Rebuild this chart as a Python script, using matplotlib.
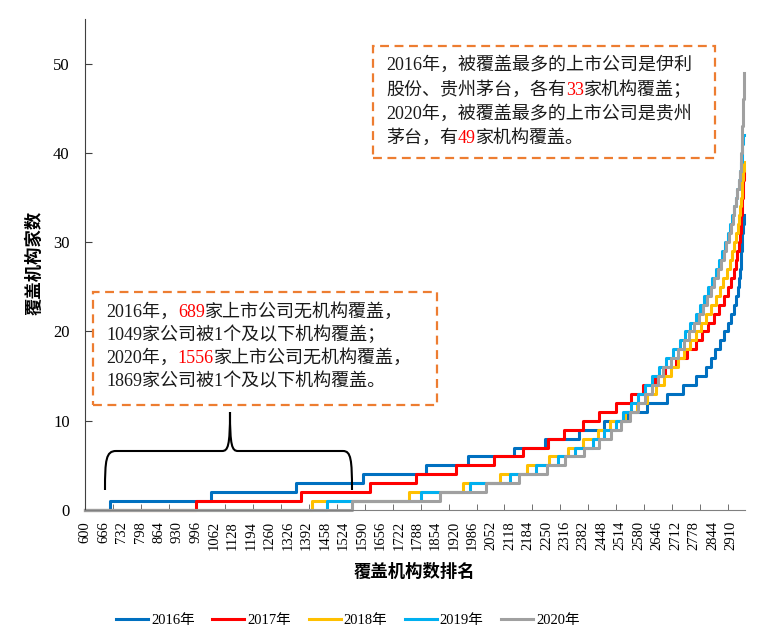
import matplotlib
matplotlib.use("Agg")
import matplotlib.pyplot as plt
from matplotlib.lines import Line2D
from matplotlib.patches import Rectangle, PathPatch
from matplotlib.path import Path

plt.rcParams["font.family"] = ["Liberation Serif", "Noto Sans CJK SC"]

# rank (x) at which the number of covering institutions steps up to 1, 2, 3, ...
years = ["2016年", "2017年", "2018年", "2019年", "2020年"]
steps_2016 = [689, 1049, 1356, 1594, 1820, 1969, 2133, 2246, 2368, 2457,
              2539, 2611, 2682, 2739, 2786, 2821, 2839, 2854, 2871, 2886,
              2900, 2911, 2920, 2929, 2934, 2937, 2941, 2944, 2946, 2949,
              2951, 2953, 2955]
steps_2017 = [996, 1371, 1618, 1785, 1927, 2064, 2165, 2255, 2314, 2380,
              2439, 2499, 2554, 2596, 2639, 2675, 2714, 2754, 2786, 2807,
              2829, 2850, 2868, 2886, 2900, 2911, 2920, 2927, 2932, 2937,
              2942, 2945, 2947, 2950, 2951, 2953, 2954, 2955]
steps_2018 = [1410, 1758, 1951, 2084, 2179, 2258, 2326, 2380, 2433, 2477,
              2532, 2575, 2611, 2643, 2671, 2696, 2721, 2743, 2764, 2786,
              2804, 2821, 2839, 2855, 2870, 2882, 2895, 2905, 2914, 2922,
              2928, 2934, 2938, 2942, 2946, 2948, 2951, 2953, 2955]
steps_2019 = [1465, 1802, 1978, 2120, 2213, 2290, 2353, 2418, 2457, 2499,
              2525, 2554, 2579, 2604, 2629, 2654, 2679, 2704, 2729, 2746,
              2764, 2786, 2800, 2814, 2829, 2843, 2855, 2868, 2879, 2889,
              2898, 2907, 2914, 2921, 2927, 2933, 2937, 2941, 2945, 2948,
              2950, 2952]
steps_2020 = [1556, 1869, 2034, 2153, 2253, 2318, 2386, 2439, 2482, 2518,
              2550, 2578, 2603, 2628, 2650, 2668, 2696, 2721, 2743, 2761,
              2779, 2796, 2811, 2825, 2839, 2850, 2862, 2873, 2884, 2893,
              2902, 2909, 2916, 2922, 2928, 2933, 2937, 2941, 2944, 2946,
              2948, 2950, 2951, 2952, 2953, 2954, 2955, 2956, 2957]
rank_start = 600
rank_end = 2958
colors = ["#0070C0", "#FF0000", "#FFC000", "#00B0F0", "#A0A0A0"]

xtick_labels = list(range(600, 2911, 66))
xtick_marks = list(range(700, 2901, 100))
yticks = [0, 10, 20, 30, 40, 50]

W, H = 775, 633
fig = plt.figure(figsize=(W / 100, H / 100), dpi=100)


def fx(px):
    return px / W


def fy(py):
    return 1 - py / H


ax = fig.add_axes([fx(85), fy(510), (745 - 85) / W, (510 - 19) / H])

all_steps = [steps_2016, steps_2017, steps_2018, steps_2019, steps_2020]
for steps, c, lab in zip(all_steps, colors, years):
    xs = [rank_start] + steps + [rank_end]
    ys = [0] + list(range(1, len(steps) + 1)) + [len(steps)]
    ax.step(xs, ys, where="post", color=c, lw=2.2, label=lab, clip_on=False)

ax.set_xlim(600, 2960)
ax.set_ylim(0, 55)
ax.set_xticks(xtick_labels)
ax.set_xticklabels([str(v) for v in xtick_labels], rotation=90, fontsize=10.5,
                   family="Liberation Serif")
ax.set_xticks(xtick_marks, minor=True)
ax.tick_params(axis="x", which="major", length=0, pad=8)
ax.tick_params(axis="x", which="minor", direction="in", length=4, color="#595959")
ax.set_yticks(yticks)
ax.set_yticklabels([str(v) for v in yticks], fontsize=12, family="Liberation Serif")
ax.tick_params(axis="y", direction="in", length=5, pad=11, color="#404040")

for s in ["top", "right"]:
    ax.spines[s].set_visible(False)
ax.spines["left"].set_color("#404040")
ax.spines["bottom"].set_color("#808080")

fig.text(fx(35), fy(263), "覆盖机构家数", rotation=90, ha="center", va="center",
         fontsize=12.5, fontweight="bold", family="Noto Sans CJK SC")
fig.text(fx(414), fy(572), "覆盖机构数排名", ha="center", va="center",
         fontsize=12.5, fontweight="bold", family="Noto Sans CJK SC")

handles = [Line2D([0], [0], color=c, lw=2.2) for c in colors]
fig.legend(handles, years, loc="center", bbox_to_anchor=(fx(348), fy(620)),
           ncol=5, frameon=False, fontsize=10.5, handlelength=2.2,
           handletextpad=0.2, columnspacing=1.2)

# annotation boxes
K, R = "#1A1A1A", "#FF0000"
box1 = [
    [("2016年，被覆盖最多的上市公司是伊利", K)],
    [("股份、贵州茅台，各有", K), ("33", R), ("家机构覆盖；", K)],
    [("2020年，被覆盖最多的上市公司是贵州", K)],
    [("茅台，有", K), ("49", R), ("家机构覆盖。", K)],
]
box2 = [
    [("2016年，", K), ("689", R), ("家上市公司无机构覆盖，", K)],
    [("1049家公司被1个及以下机构覆盖；", K)],
    [("2020年，", K), ("1556", R), ("家上市公司无机构覆盖，", K)],
    [("1869家公司被1个及以下机构覆盖。", K)],
]


def write_lines(lines, x0, y_centers):
    for parts, yc in zip(lines, y_centers):
        prev = None
        for txt, col in parts:
            if prev is None:
                prev = fig.text(fx(x0), fy(yc), txt, color=col, fontsize=13,
                                ha="left", va="center")
            else:
                prev = ax.annotate(txt, xy=(1, 0), xycoords=prev, color=col,
                                   fontsize=13, ha="left", va="bottom",
                                   annotation_clip=False)


write_lines(box1, 386, [65, 90, 114, 138])
write_lines(box2, 106, [312, 335, 358, 382])

for (l, t, r, b) in [(373, 46, 715, 158), (93, 292, 437, 405)]:
    fig.patches.append(Rectangle((fx(l), fy(b)), (r - l) / W, (b - t) / H,
                                 transform=fig.transFigure, fill=False,
                                 edgecolor="#ED7D31", lw=1.6,
                                 linestyle=(0, (4, 2.5))))

# curly brace
pts = [(105, 490), (105, 460), (106, 451), (116, 451),
       (222, 451), (228, 451), (230, 446), (230, 412),
       (230, 446), (232, 451), (238, 451),
       (343, 451), (351, 451), (352, 460), (352, 490)]
codes = [Path.MOVETO, Path.CURVE4, Path.CURVE4, Path.CURVE4,
         Path.LINETO, Path.CURVE4, Path.CURVE4, Path.CURVE4,
         Path.CURVE4, Path.CURVE4, Path.CURVE4,
         Path.LINETO, Path.CURVE4, Path.CURVE4, Path.CURVE4]
brace = Path([(fx(px), fy(py)) for px, py in pts], codes)
fig.patches.append(PathPatch(brace, transform=fig.transFigure, fill=False,
                             edgecolor="black", lw=1.5))

fig.savefig("out.png", dpi=100)
